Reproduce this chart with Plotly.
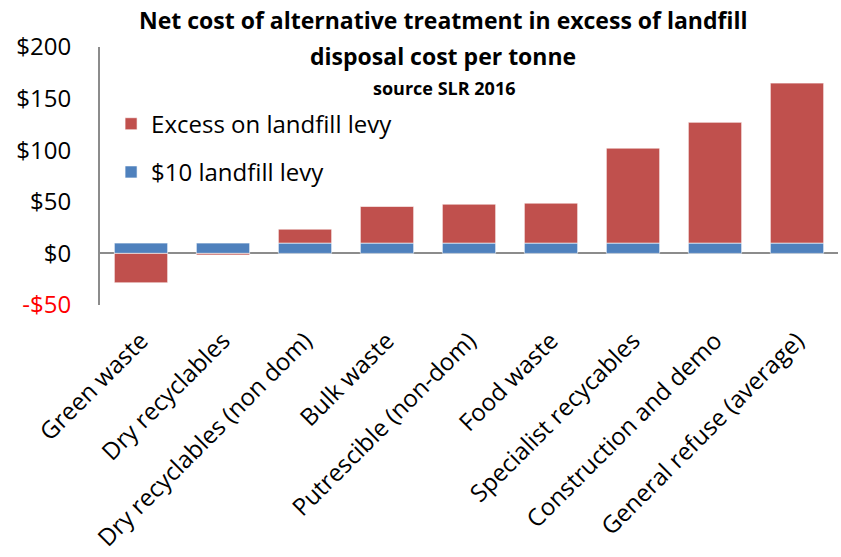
import plotly.graph_objects as go

categories = [
    "Green waste",
    "Dry recyclables",
    "Dry recyclables (non dom)",
    "Bulk waste",
    "Putrescible (non-dom)",
    "Food waste",
    "Specialist recycables",
    "Construction and demo",
    "General refuse (average)",
]
levy = [10, 10, 10, 10, 10, 10, 10, 10, 10]
excess = [-28.5, -1.5, 13.5, 35.5, 37.7, 38.7, 92, 117, 155]

tick_vals = [-50, 0, 50, 100, 150, 200]
tick_text = ["<span style='color:#FF0000'>-$50</span>", "$0", "$50", "$100", "$150", "$200"]

title_lines = [
    "Net cost of alternative treatment in excess of landfill",
    "disposal cost per tonne",
]
source_text = "source SLR 2016"

FONT = "Open Sans"
BLUE = "#4F81BD"
RED = "#C0504D"

fig = go.Figure()
fig.add_trace(go.Bar(
    x=categories, y=levy, name="$10 landfill levy",
    marker=dict(color=BLUE, line=dict(color="rgba(255,255,255,0.6)", width=1)),
    legendgroup="levy", legendrank=2,
))
fig.add_trace(go.Bar(
    x=categories, y=excess, name="Excess on landfill levy",
    marker=dict(color=RED, line=dict(color="rgba(255,255,255,0.6)", width=1)),
    legendgroup="excess", legendrank=1,
))

title_ann = [
    dict(text=f"<b>{title_lines[0]}</b>", x=0.465, y=1.105, size=23),
    dict(text=f"<b>{title_lines[1]}</b>", x=0.465, y=0.965, size=23),
    dict(text=f"<b>{source_text}</b>", x=0.466, y=0.841, size=18),
]

fig.update_layout(
    width=841, height=557,
    barmode="relative",
    bargap=0.35,
    plot_bgcolor="white",
    paper_bgcolor="white",
    margin=dict(l=100, r=3, t=47, b=252, autoexpand=False),
    font=dict(family=FONT, size=24, color="black"),
    showlegend=True,
    legend=dict(
        x=0.015, y=0.608, xanchor="left", yanchor="middle",
        traceorder="grouped", tracegroupgap=14,
        font=dict(family=FONT, size=24, color="black"),
        bgcolor="rgba(0,0,0,0)",
    ),
    annotations=[
        dict(text=a["text"], xref="paper", yref="paper", x=a["x"], y=a["y"],
             xanchor="center", yanchor="middle", showarrow=False,
             font=dict(family=FONT, size=a["size"], color="black"))
        for a in title_ann
    ],
)

fig.update_yaxes(
    range=[-50, 200], tickvals=tick_vals, ticktext=tick_text,
    showgrid=False, showline=True, linecolor="#8C8C8C", linewidth=2,
    zeroline=True, zerolinecolor="#8C8C8C", zerolinewidth=2,
    ticks="", ticklabelstandoff=22, automargin=False,
)
fig.update_xaxes(
    tickangle=-45, showgrid=False, showline=False, ticks="",
    ticklabelstandoff=16, automargin=False,
)

fig.write_html("out.html")
